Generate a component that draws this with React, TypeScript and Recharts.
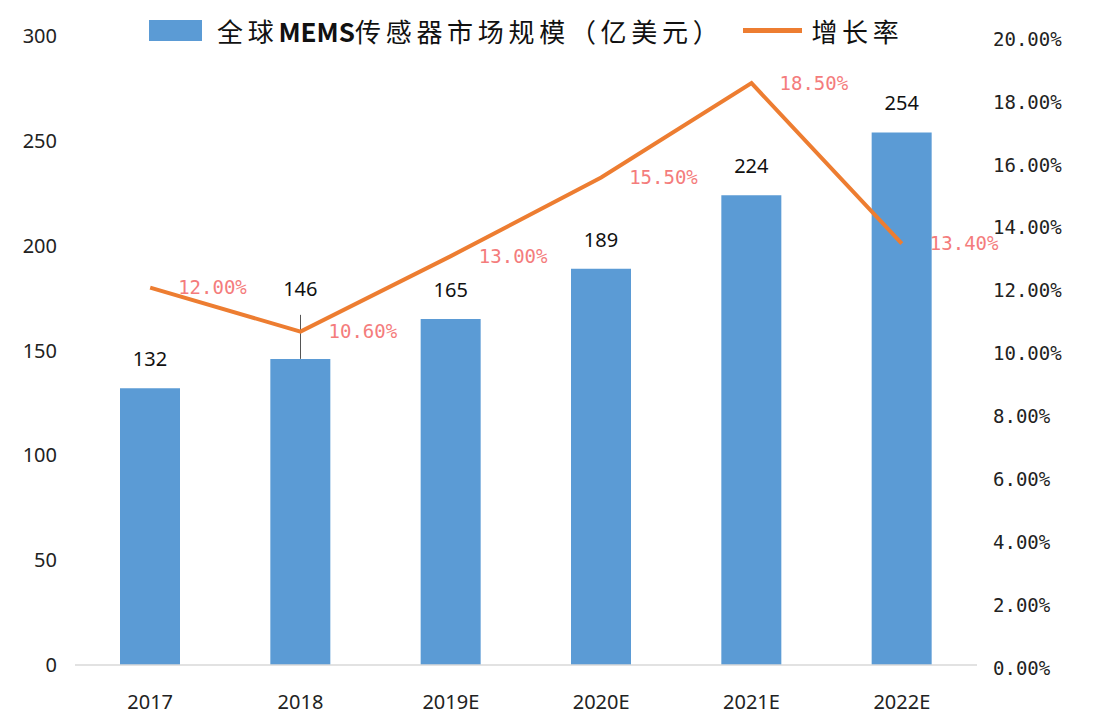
import React from 'react';
import {
  ComposedChart,
  Bar,
  Line,
  XAxis,
  YAxis,
  LabelList,
  ReferenceLine,
} from 'recharts';

const YEARS = ['2017', '2018', '2019E', '2020E', '2021E', '2022E'];
const MARKET_SIZE = [132, 146, 165, 189, 224, 254];
const GROWTH_RATE = [12.0, 10.6, 13.0, 15.5, 18.5, 13.4];
const LEFT_TICKS = [0, 50, 100, 150, 200, 250, 300];
const RIGHT_TICKS = [0, 2, 4, 6, 8, 10, 12, 14, 16, 18, 20];
// thin leader line drawn on the 2018 bar in the source
const LEADER_2018 = { year: '2018', from: 146, to: 167 };

const BAR_NAME = '全球MEMS传感器市场规模（亿美元）';
const LINE_NAME = '增长率';

const BLUE = '#5B9BD5';
const ORANGE = '#ED7D31';
const PINK = '#F47C7C';

const data = YEARS.map((year, i) => ({
  year,
  size: MARKET_SIZE[i],
  rate: GROWTH_RATE[i],
}));

const sansFont = '"Noto Sans", "Noto Sans CJK SC", sans-serif';
const monoFont = '"DejaVu Sans Mono", monospace';

// the 2018 value label sits above the leader line
const BarValueLabel = (props: any) => {
  const { x, y, width, value, index } = props;
  const lift = YEARS[index] === LEADER_2018.year ? 63 : 22;
  return (
    <text
      x={x + width / 2}
      y={y - lift}
      textAnchor="middle"
      fill="#111"
      fontSize={20}
      fontFamily={sansFont}
    >
      {value}
    </text>
  );
};

const App: React.FC = () => {
  return (
    <div style={{ position: 'absolute', left: 0, top: 0, width: 1104, height: 724, background: '#fff' }}>
      <ComposedChart
        width={1104}
        height={724}
        data={data}
        margin={{ top: 36, right: 0, bottom: 0, left: 0 }}
      >
        <XAxis
          dataKey="year"
          height={59}
          tickLine={false}
          tickMargin={24}
          axisLine={{ stroke: '#D9D9D9', strokeWidth: 1.5 }}
          tick={{ fill: '#222', fontSize: 20, fontFamily: sansFont }}
        />
        <YAxis
          yAxisId="left"
          width={75}
          domain={[0, 300]}
          ticks={LEFT_TICKS}
          interval={0}
          axisLine={false}
          tickLine={false}
          tickMargin={12}
          tick={{ fill: '#222', fontSize: 20, fontFamily: sansFont }}
        />
        <YAxis
          yAxisId="right"
          orientation="right"
          width={127}
          domain={[0, 20]}
          ticks={RIGHT_TICKS}
          interval={0}
          axisLine={false}
          tickLine={false}
          tickMargin={10}
          tickFormatter={(v: number) => `${v.toFixed(2)}%`}
          tick={{ fill: '#222', fontSize: 19, fontFamily: monoFont, dy: 3 }}
        />
        <Bar yAxisId="left" dataKey="size" name={BAR_NAME} fill={BLUE} barSize={60} isAnimationActive={false}>
          <LabelList dataKey="size" content={BarValueLabel} />
        </Bar>
        <ReferenceLine
          yAxisId="left"
          segment={[
            { x: LEADER_2018.year, y: LEADER_2018.from },
            { x: LEADER_2018.year, y: LEADER_2018.to },
          ]}
          stroke="#555"
          strokeWidth={1}
        />
        <Line
          yAxisId="right"
          dataKey="rate"
          name={LINE_NAME}
          stroke={ORANGE}
          strokeWidth={4}
          dot={false}
          activeDot={false}
          isAnimationActive={false}
        >
          <LabelList
            dataKey="rate"
            position="right"
            offset={28}
            fill={PINK}
            fontSize={19}
            fontFamily={monoFont}
            formatter={(v: number) => `${v.toFixed(2)}%`}
          />
        </Line>
      </ComposedChart>
      <div
        style={{
          position: 'absolute',
          left: 149,
          top: 12,
          display: 'flex',
          alignItems: 'center',
          fontFamily: '"Noto Sans CJK SC", sans-serif',
          fontSize: 26,
          letterSpacing: 4.7,
          color: '#111',
          whiteSpace: 'nowrap',
        }}
      >
        <span style={{ display: 'inline-block', width: 53, height: 21, background: BLUE, marginRight: 15 }} />
        <span>
          全球<span style={{ letterSpacing: 0, fontWeight: 700 }}>MEMS</span>传感器市场规模（亿美元）
        </span>
        <span style={{ display: 'inline-block', width: 59, height: 5, background: ORANGE, marginLeft: 20, marginRight: 9 }} />
        <span>{LINE_NAME}</span>
      </div>
    </div>
  );
};

export default App;
